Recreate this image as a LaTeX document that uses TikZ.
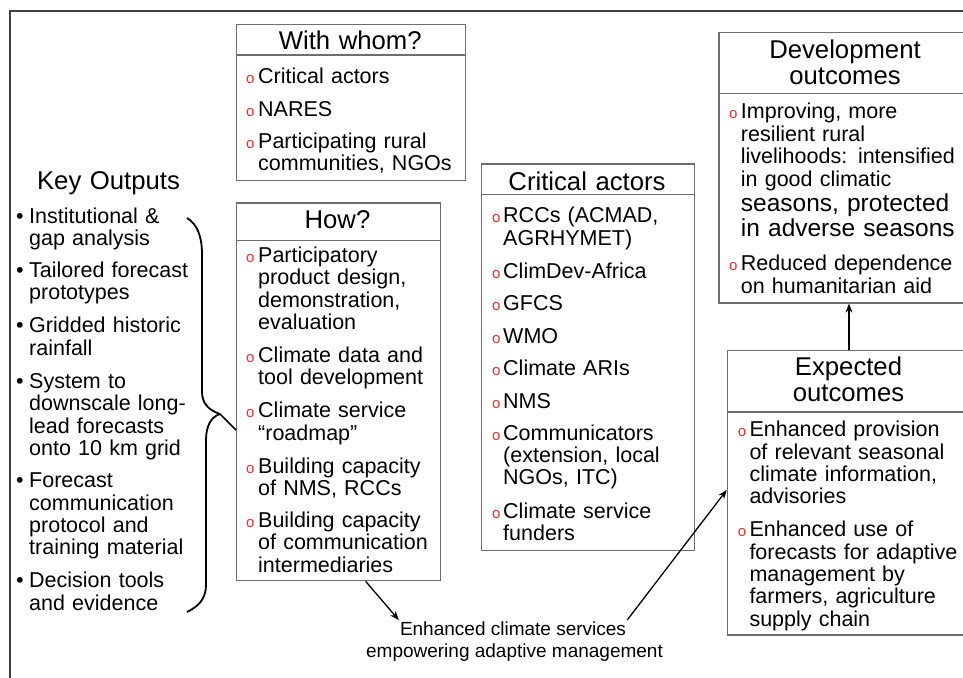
\documentclass[tikz,border=0pt]{standalone}
\usepackage{fontspec}
\setmainfont{Liberation Sans}
\usetikzlibrary{arrows.meta,calc}
\definecolor{markred}{HTML}{F03030}
\definecolor{boxgray}{HTML}{6E6E6E}
\begin{document}
\begin{tikzpicture}[x=1pt,y=-1pt,
  boxframe/.style={draw=boxgray,line width=1.3pt},
  ttl/.style={font=\fontsize{25.7}{25.7}\selectfont,inner sep=0pt,anchor=base,text width=250pt,align=center},
  itm/.style={font=\fontsize{21.5}{22.4}\selectfont,inner sep=0pt,anchor=base west,text width=240pt,align=left},
  bigitm/.style={font=\fontsize{24.5}{25}\selectfont,inner sep=0pt,anchor=base west,text width=240pt,align=left},
  redo/.style={font=\fontsize{15}{15}\selectfont,text=markred,inner sep=0pt,anchor=base west},
  bul/.style={font=\fontsize{21.5}{22.4}\selectfont,inner sep=0pt,anchor=base west},
  conn/.style={line width=1.3pt,-{Stealth[length=9pt,width=7pt]}},
  brace/.style={line width=1.8pt},
]
\useasboundingbox (0,0) rectangle (963,677);
\clip (0,0) rectangle (963,677);
\fill[white] (0,0) rectangle (963,677);
\draw[line width=1.3pt,black!75] (10,700) -- (10,11) -- (990,11);

% ---------- With whom? ----------
\node[boxframe,anchor=north west,minimum width=229.5pt,minimum height=156pt,inner sep=0pt] (ww) at (235.5,24) {};
\draw[boxframe] (235.5,55) -- (465,55);
\node[ttl] (wwt) at (350.2,50) {With whom?};
\node[redo] (wwo1) at (246,83.3) {o};
\node[itm] (wwi1) at (258,83.3) {Critical actors};
\node[redo] (wwo2) at (246,116.7) {o};
\node[itm] (wwi2) at (258,116.7) {NARES};
\node[redo] (wwo3) at (246,148) {o};
\node[itm] (wwi3) at (258,148) {Participating rural\\communities, NGOs};

% ---------- Key Outputs ----------
\node[ttl] (kot) at (108.5,189) {Key Outputs};
\node[bul] (kob1) at (16,223) {\textbullet};
\node[itm] (koi1) at (29,223) {Institutional \&\\gap analysis};
\node[bul] (kob2) at (16,277.3) {\textbullet};
\node[itm] (koi2) at (29,277.3) {Tailored forecast\\prototypes};
\node[bul] (kob3) at (16,332.7) {\textbullet};
\node[itm] (koi3) at (29,332.7) {Gridded historic\\rainfall};
\node[bul] (kob4) at (16,388.3) {\textbullet};
\node[itm] (koi4) at (29,388.3) {System to\\downscale long-\\lead forecasts\\onto 10 km grid};
\node[bul] (kob5) at (16,487.7) {\textbullet};
\node[itm] (koi5) at (29,487.7) {Forecast\\communication\\protocol and\\training material};
\node[bul] (kob6) at (16,587.7) {\textbullet};
\node[itm] (koi6) at (29,587.7) {Decision tools\\and evidence};

% ---------- How? ----------
\node[boxframe,anchor=north west,minimum width=204pt,minimum height=377.7pt,inner sep=0pt] (how) at (236,202.3) {};
\draw[boxframe] (236,240.7) -- (440,240.7);
\node[ttl] (howt) at (337.5,228.3) {How?};
\node[redo] (howo1) at (246,262.3) {o};
\node[itm] (howi1) at (258,262.3) {Participatory\\product design,\\demonstration,\\evaluation};
\node[redo] (howo2) at (246,362.3) {o};
\node[itm] (howi2) at (258,362.3) {Climate data and\\tool development};
\node[redo] (howo3) at (246,417.7) {o};
\node[itm] (howi3) at (258,417.7) {Climate service\\“roadmap”};
\node[redo] (howo4) at (246,473.3) {o};
\node[itm] (howi4) at (258,473.3) {Building capacity\\of NMS, RCCs};
\node[redo] (howo5) at (246,527.3) {o};
\node[itm] (howi5) at (258,527.3) {Building capacity\\of communication\\intermediaries};

% ---------- Critical actors ----------
\node[boxframe,anchor=north west,minimum width=213pt,minimum height=386.4pt,inner sep=0pt] (ca) at (481,163.3) {};
\draw[boxframe] (481,194.3) -- (694,194.3);
\node[ttl] (cat) at (587,190) {Critical actors};
\node[redo] (cao1) at (492,222.7) {o};
\node[itm] (cai1) at (503,222.7) {RCCs (ACMAD,\\AGRHYMET)};
\node[redo] (cao2) at (492,278.3) {o};
\node[itm] (cai2) at (503,278.3) {ClimDev-Africa};
\node[redo] (cao3) at (492,310) {o};
\node[itm] (cai3) at (503,310) {GFCS};
\node[redo] (cao4) at (492,343.3) {o};
\node[itm] (cai4) at (503,343.3) {WMO};
\node[redo] (cao5) at (492,375) {o};
\node[itm] (cai5) at (503,375) {Climate ARIs};
\node[redo] (cao6) at (492,408.3) {o};
\node[itm] (cai6) at (503,408.3) {NMS};
\node[redo] (cao7) at (492,440) {o};
\node[itm] (cai7) at (503,440) {Communicators\\(extension, local\\NGOs, ITC)};
\node[redo] (cao8) at (492,518.3) {o};
\node[itm] (cai8) at (503,518.3) {Climate service\\funders};

% ---------- Development outcomes ----------
\node[boxframe,anchor=north west,minimum width=253.7pt,minimum height=270.6pt,inner sep=0pt] (dev) at (718.3,31.7) {};
\draw[boxframe] (718.3,93.3) -- (972,93.3);
\node[ttl] (devt1) at (845,58.3) {Development};
\node[ttl] (devt2) at (845,84) {outcomes};
\node[redo] (devo1) at (729,118.3) {o};
\node[itm,font=\fontsize{21.5}{22.8}\selectfont] (devi1) at (740.7,118.3) {Improving, more\\resilient rural\\livelihoods: intensified\\in good climatic};
\node[bigitm] (devi1b) at (740.7,211.7) {seasons, protected\\in adverse seasons};
\node[redo] (devo2) at (729,270.7) {o};
\node[itm] (devi2) at (740.7,270.7) {Reduced dependence\\on humanitarian aid};

% ---------- Expected outcomes ----------
\node[boxframe,anchor=north west,minimum width=243.3pt,minimum height=284.3pt,inner sep=0pt] (exp) at (726.7,350) {};
\draw[boxframe] (726.7,412) -- (970,412);
\node[ttl] (expt1) at (848.5,375.7) {Expected};
\node[ttl] (expt2) at (848.5,401.7) {outcomes};
\node[redo] (expo1) at (737.7,436.7) {o};
\node[itm] (expi1) at (749.3,436.7) {Enhanced provision\\of relevant seasonal\\climate information,\\advisories};
\node[redo] (expo2) at (737.7,536.7) {o};
\node[itm] (expi2) at (749.3,536.7) {Enhanced use of\\forecasts for adaptive\\management by\\farmers, agriculture\\supply chain};

% ---------- Enhanced climate services ----------
\node[font=\fontsize{19}{19}\selectfont,inner sep=1pt,anchor=base] (ecs1) at (513,635) {Enhanced climate services};
\node[font=\fontsize{19}{19}\selectfont,inner sep=1pt,anchor=base] (ecs2) at (514.5,657.7) {empowering adaptive management};

% ---------- Brace ----------
\coordinate (tip) at (220,414);
\draw[brace] (187,218) .. controls (197,224) and (202,236) .. (202,254) -- (202,392) .. controls (202,405) and (211,411) .. (tip);
\draw[brace] (tip) .. controls (211,417) and (206,426) .. (206,440) -- (206,585) .. controls (206,600) and (197,607) .. (187,612);
\draw[line width=1.5pt] (tip) -- ($(how.north west)+(0,227.7)$);

% ---------- Connectors ----------
\draw[conn] ($(how.south)+(27,0)$) -- (ecs1.north west);
\draw[conn] (ecs1.north east) -- ($(exp.north west)+(0,140)$);
\draw[conn] (exp.north) -- (exp.north |- dev.south);
\end{tikzpicture}
\end{document}
